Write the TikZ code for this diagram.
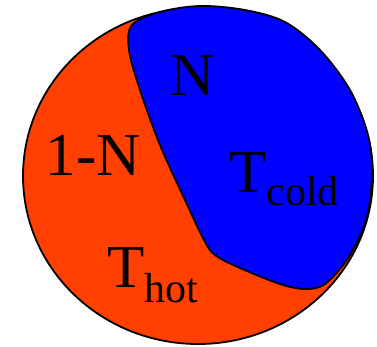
\documentclass[tikz,border=0pt]{standalone}
\usepackage{fontspec}
\setmainfont{Liberation Serif}
\usetikzlibrary{positioning}

\definecolor{hotred}{RGB}{255,64,0}
\definecolor{coldblue}{RGB}{0,0,255}

\tikzset{
    label/.style={inner sep=0pt, font=\fontsize{61}{61}\selectfont}
}

\begin{document}
\begin{tikzpicture}[x=1pt, y=-1pt]
            \def\rx{175}
            \def\ry{168}
            \useasboundingbox (0,0) rectangle (377,346);

            % Hot region
            \draw[fill=hotred, line width=1.8pt] (198,176) ellipse [x radius=\rx, y radius=\ry];

            % Cold region
            \draw[fill=coldblue, line width=1.8pt] plot[smooth cycle, tension=0.55] coordinates {
                (132,25) (160,12) (200,6) (245,10) (285,22) (320,50) (350,90)
                (368,135) (372,175) (366,220) (348,258) (325,284) (305,289)
                (280,284) (240,268) (215,255) (204,240) (185,200) (160,145)
                (140,90) (129,50)
            };

            % Labels
            \node[label, anchor=base] (n) at (193,95) {N};
            \node[label, anchor=base] (onemn) at (93,175) {1-N};
            \node[label, anchor=base west] (tcold) at (229,192) {T\raisebox{-13pt}{\fontsize{42}{42}\selectfont cold}};
            \node[label, anchor=base west] (thot) at (107,287) {T\raisebox{-15pt}{\fontsize{42}{42}\selectfont hot}};
\end{tikzpicture}
\end{document}
